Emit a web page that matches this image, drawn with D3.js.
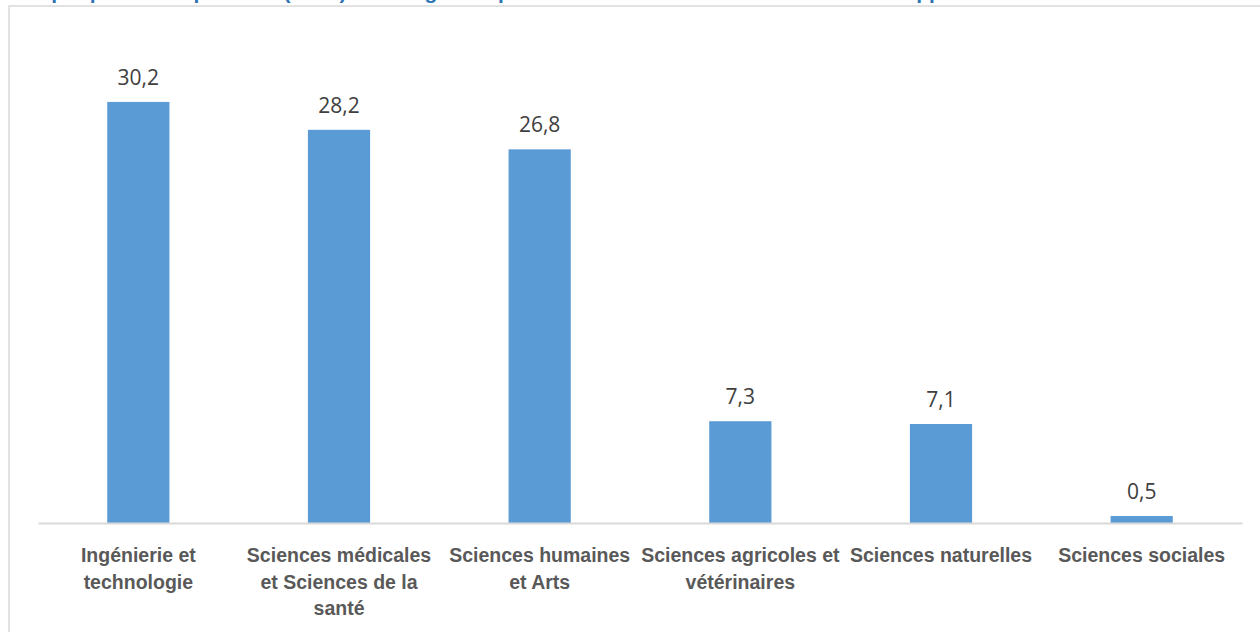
<!DOCTYPE html>
<html>
<head>
<meta charset="utf-8">
<script src="https://cdn.jsdelivr.net/npm/d3@7"></script>
<style>
    html, body { margin: 0; padding: 0; background: #ffffff; overflow: hidden; }
</style>
</head>
<body>
<div id="chart"></div>
<script>
const TITLE = "Graphique 11 : Répartition (en %) des stagiaires par domaine de recherche et structure d'appui";

// categories, one entry per bar (line breaks as in the picture)
const CATEGORIES = [
    "Ingénierie et\ntechnologie",
    "Sciences médicales\net Sciences de la\nsanté",
    "Sciences humaines\net Arts",
    "Sciences agricoles et\nvétérinaires",
    "Sciences naturelles",
    "Sciences sociales"
];
const VALUES = [30.2, 28.2, 26.8, 7.3, 7.1, 0.5];
const Y_DOMAIN = [0, 35];

const WIDTH = 1260;
const HEIGHT = 632;
const MARGINS = { top: 35, right: 18, bottom: 109, left: 38 };

const svg = d3.select("#chart").append("svg")
    .attr("width", WIDTH)
    .attr("height", HEIGHT)
    .style("display", "block");

svg.append("rect")
    .attr("width", WIDTH)
    .attr("height", HEIGHT)
    .attr("fill", "#ffffff");

// title, cut off at the top edge like in the source
svg.append("text")
    .attr("x", 15)
    .attr("y", -1)
    .attr("font-family", "'Liberation Sans', Arial, sans-serif")
    .attr("font-weight", "bold")
    .attr("font-size", "21px")
    .attr("fill", "#2e74b5")
    .text(TITLE);

// chart frame
svg.append("rect")
    .attr("x", 9)
    .attr("y", 6)
    .attr("width", WIDTH + 20)
    .attr("height", HEIGHT + 20)
    .attr("fill", "#ffffff")
    .attr("stroke", "#d9d9d9")
    .attr("stroke-width", 1.5);

const x = d3.scaleBand()
    .domain(CATEGORIES)
    .range([MARGINS.left, WIDTH - MARGINS.right])
    .paddingInner(0.69)
    .paddingOuter(0.345);

const y = d3.scaleLinear()
    .domain(Y_DOMAIN)
    .range([HEIGHT - MARGINS.bottom, MARGINS.top]);

const data = CATEGORIES.map((c, i) => ({ cat: c, value: VALUES[i] }));

svg.append("g")
    .selectAll("rect")
    .data(data)
    .enter()
    .append("rect")
    .attr("x", d => x(d.cat))
    .attr("y", d => y(d.value))
    .attr("width", x.bandwidth())
    .attr("height", d => y(0) - y(d.value))
    .attr("fill", "#5b9bd5");

// value labels
svg.append("g")
    .selectAll("text")
    .data(data)
    .enter()
    .append("text")
    .attr("x", d => x(d.cat) + x.bandwidth() / 2)
    .attr("y", d => y(d.value) - 17)
    .attr("text-anchor", "middle")
    .attr("font-family", "'Open Sans', sans-serif")
    .attr("font-size", "21px")
    .attr("fill", "#404040")
    .text(d => d3.format(".1f")(d.value).replace(".", ","));

// x axis
const xAxis = svg.append("g")
    .attr("transform", "translate(0," + y(0) + ")")
    .call(d3.axisBottom(x).tickSize(0).tickFormat(""));

xAxis.select(".domain")
    .attr("stroke", "#d9d9d9")
    .attr("stroke-width", 2);

xAxis.selectAll(".tick").each(function (d) {
    const t = d3.select(this).append("text")
        .attr("y", 39)
        .attr("text-anchor", "middle")
        .attr("font-family", "'Liberation Sans', Arial, sans-serif")
        .attr("font-weight", "bold")
        .attr("font-size", "19.5px")
        .attr("fill", "#595959");
    d.split("\n").forEach((line, i) => {
        t.append("tspan")
            .attr("x", 0)
            .attr("dy", i === 0 ? 0 : 26.5)
            .text(line);
    });
});
</script>
</body>
</html>
